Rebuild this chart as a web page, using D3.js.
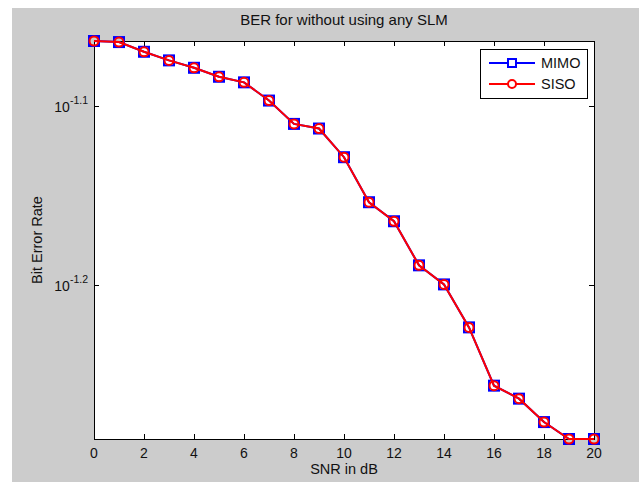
<!DOCTYPE html>
<html>
<head>
<meta charset="utf-8">
<script src="https://cdn.jsdelivr.net/npm/d3@7"></script>
<style>
body { margin: 0; background: #fff; }
svg { display: block; font-family: "Liberation Sans", Arial, sans-serif; }
</style>
</head>
<body>
<svg id="chart" width="643" height="482"></svg>
<script>
// SNR values (dB) and BER
var snr = [0, 1, 2, 3, 4, 5, 6, 7, 8, 9, 10, 11, 12, 13, 14, 15, 16, 17, 18, 19, 20]
var berMIMO = [0.08638, 0.08626, 0.08519, 0.08425, 0.08345, 0.08249, 0.08190, 0.08000, 0.07763, 0.07717,
    0.07437, 0.07018, 0.06848, 0.06470, 0.06313, 0.05973, 0.05541, 0.05449, 0.05287, 0.05173, 0.05173]
var berSISO = [0.08638, 0.08626, 0.08519, 0.08425, 0.08345, 0.08249, 0.08190, 0.08000, 0.07763, 0.07717,
    0.07437, 0.07018, 0.06848, 0.06470, 0.06313, 0.05973, 0.05541, 0.05449, 0.05287, 0.05173, 0.05173]
var xTicks = [0, 2, 4, 6, 8, 10, 12, 14, 16, 18, 20]
var yTickExp = [-1.1, -1.2]

var svg = d3.select('#chart')
var pLeft = 94, pRight = 594, pTop = 41, pBottom = 439

// grey figure background
svg.append('rect').attr('x', 12).attr('y', 8).attr('width', 627).attr('height', 474).attr('fill', '#cccccc')

var x = d3.scaleLinear().domain([0, 20]).range([pLeft, pRight])
var allBer = berMIMO.concat(berSISO)
var y = d3.scaleLog().domain([d3.min(allBer), d3.max(allBer)]).range([pBottom, pTop])

svg.append('rect').attr('x', pLeft).attr('y', pTop)
    .attr('width', pRight - pLeft).attr('height', pBottom - pTop)
    .attr('fill', '#fff')

// ticks, drawn inward on all four sides
var tk = 5
var g = svg.append('g').attr('stroke', '#000').attr('stroke-width', 1)
xTicks.forEach(function(t) {
    var px = Math.round(x(t)) + 0.5
    g.append('line').attr('x1', px).attr('x2', px).attr('y1', pBottom).attr('y2', pBottom - tk)
    g.append('line').attr('x1', px).attr('x2', px).attr('y1', pTop).attr('y2', pTop + tk)
})
yTickExp.forEach(function(e) {
    var py = Math.round(y(Math.pow(10, e))) + 0.5
    g.append('line').attr('x1', pLeft).attr('x2', pLeft + tk).attr('y1', py).attr('y2', py)
    g.append('line').attr('x1', pRight).attr('x2', pRight - tk).attr('y1', py).attr('y2', py)
})

svg.append('rect').attr('x', pLeft + 0.5).attr('y', pTop + 0.5)
    .attr('width', pRight - pLeft).attr('height', pBottom - pTop)
    .attr('fill', 'none').attr('stroke', '#000').attr('stroke-width', 1)

// tick labels
svg.append('g').selectAll('text').data(xTicks).join('text')
    .attr('x', function(d) { return x(d) })
    .attr('y', pBottom + 19)
    .attr('text-anchor', 'middle')
    .attr('font-size', 14)
    .attr('fill', '#111')
    .text(function(d) { return d })

var yl = svg.append('g').selectAll('text').data(yTickExp).join('text')
    .attr('x', pLeft - 6)
    .attr('y', function(d) { return y(Math.pow(10, d)) + 6 })
    .attr('text-anchor', 'end')
    .attr('font-size', 14)
    .attr('fill', '#111')
yl.append('tspan').text('10')
yl.append('tspan').attr('dy', -8).attr('font-size', 10.5).text(function(d) { return d })

// lines + markers
var line = d3.line().x(function(d, i) { return x(snr[i]) }).y(function(d) { return y(d) })

svg.append('path').datum(berMIMO).attr('d', line)
    .attr('fill', 'none').attr('stroke', '#0000ff').attr('stroke-width', 2)
svg.append('g').selectAll('rect').data(berMIMO).join('rect')
    .attr('x', function(d, i) { return x(snr[i]) - 5 })
    .attr('y', function(d) { return y(d) - 5 })
    .attr('width', 10).attr('height', 10)
    .attr('fill', 'none').attr('stroke', '#0000ff').attr('stroke-width', 2)

svg.append('path').datum(berSISO).attr('d', line)
    .attr('fill', 'none').attr('stroke', '#ff0000').attr('stroke-width', 2)
svg.append('g').selectAll('circle').data(berSISO).join('circle')
    .attr('cx', function(d, i) { return x(snr[i]) })
    .attr('cy', function(d) { return y(d) })
    .attr('r', 4.5)
    .attr('fill', 'none').attr('stroke', '#ff0000').attr('stroke-width', 2)

// legend
var lg = svg.append('g')
lg.append('rect').attr('x', 480.5).attr('y', 49.5).attr('width', 107).attr('height', 49)
    .attr('fill', '#fff').attr('stroke', '#000').attr('stroke-width', 1)
lg.append('line').attr('x1', 489).attr('x2', 535).attr('y1', 63).attr('y2', 63)
    .attr('stroke', '#0000ff').attr('stroke-width', 2)
lg.append('rect').attr('x', 508).attr('y', 59).attr('width', 8).attr('height', 8)
    .attr('fill', '#fff').attr('stroke', '#0000ff').attr('stroke-width', 2)
lg.append('text').attr('x', 541).attr('y', 68).attr('font-size', 14.5).attr('fill', '#111').text('MIMO')
lg.append('line').attr('x1', 489).attr('x2', 535).attr('y1', 84).attr('y2', 84)
    .attr('stroke', '#ff0000').attr('stroke-width', 2)
lg.append('circle').attr('cx', 512).attr('cy', 84).attr('r', 4)
    .attr('fill', '#fff').attr('stroke', '#ff0000').attr('stroke-width', 2)
lg.append('text').attr('x', 541).attr('y', 89).attr('font-size', 14.5).attr('fill', '#111').text('SISO')

// titles
svg.append('text').attr('x', (pLeft + pRight) / 2).attr('y', 25)
    .attr('text-anchor', 'middle').attr('font-size', 15).attr('fill', '#111')
    .text('BER for without using any SLM')
svg.append('text').attr('x', (pLeft + pRight) / 2).attr('y', 474)
    .attr('text-anchor', 'middle').attr('font-size', 14.5).attr('fill', '#111')
    .text('SNR in dB')
svg.append('text')
    .attr('transform', 'translate(42,' + ((pTop + pBottom) / 2) + ') rotate(-90)')
    .attr('text-anchor', 'middle').attr('font-size', 14.5).attr('fill', '#111')
    .text('Bit Error Rate')
</script>
</body>
</html>
